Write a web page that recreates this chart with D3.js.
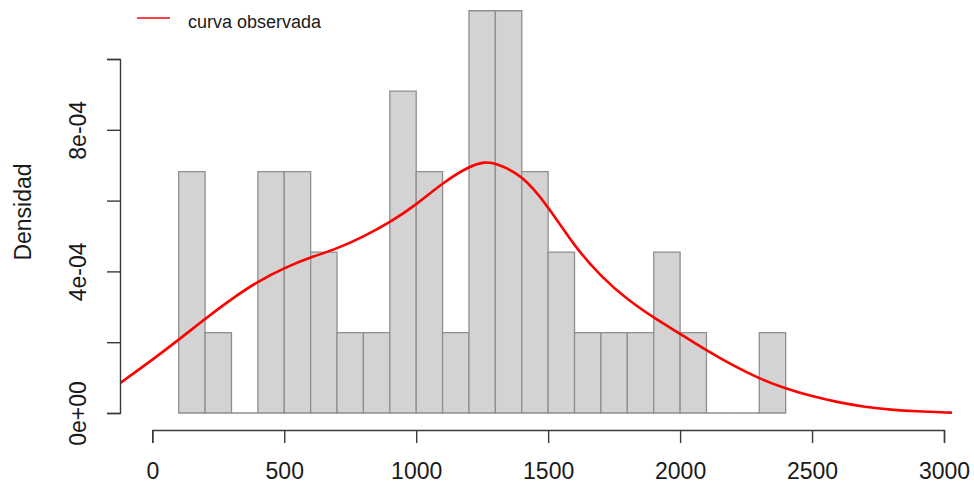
<!DOCTYPE html>
<html>
<head>
<meta charset="utf-8">
<script src="https://cdn.jsdelivr.net/npm/d3@7"></script>
<style>
  html, body { margin: 0; padding: 0; background: #fff; }
  svg { display: block; font-family: "Liberation Sans", Arial, sans-serif; }
</style>
</head>
<body>
<svg id="chart" width="974" height="486"></svg>
<script>
// Histogram bins (lower edges, width 100) and counts
const binStarts = [100, 200, 300, 400, 500, 600, 700, 800, 900, 1000, 1100, 1200,
                   1300, 1400, 1500, 1600, 1700, 1800, 1900, 2000, 2100, 2200, 2300];
const binCounts = [3, 1, 0, 3, 3, 2, 1, 1, 4, 3, 1, 5, 5, 3, 2, 1, 1, 1, 2, 1, 0, 0, 1];
const binWidth = 100;

// Kernel density estimate (x, density)
const densX = [-121, 0, 100, 200, 300, 400, 500, 600, 700, 800, 900, 1000, 1100, 1200,
               1260, 1300, 1400, 1500, 1600, 1700, 1800, 1900, 2000, 2100, 2200, 2300,
               2400, 2500, 2600, 2700, 2800, 2900, 3000, 3030];
const densY = [0.85e-4, 1.5e-4, 2.07e-4, 2.66e-4, 3.22e-4, 3.72e-4, 4.1e-4, 4.4e-4,
               4.64e-4, 4.98e-4, 5.38e-4, 5.88e-4, 6.5e-4, 6.97e-4, 7.1e-4, 7.06e-4,
               6.74e-4, 5.84e-4, 4.7e-4, 3.86e-4, 3.2e-4, 2.69e-4, 2.24e-4, 1.77e-4,
               1.34e-4, 0.97e-4, 0.69e-4, 0.47e-4, 0.3e-4, 0.17e-4, 0.09e-4, 0.045e-4,
               0.015e-4, 0.01e-4];

const xTicks = [0, 500, 1000, 1500, 2000, 2500, 3000];
const yTicks = [0, 2e-4, 4e-4, 6e-4, 8e-4, 1e-3];
const yTickLabels = ["0e+00", "", "4e-04", "", "8e-04", ""];

const legendLabel = "curva observada";
const yTitle = "Densidad";

const nTotal = d3.sum(binCounts);
const bins = binStarts.map((s, i) => ({ x0: s, x1: s + binWidth, d: binCounts[i] / (nTotal * binWidth) }));
const dens = densX.map((x, i) => ({ x, y: densY[i] }));

const svg = d3.select("#chart");
const x = d3.scaleLinear().domain([0, 3000]).range([152.3, 944]);
const y = d3.scaleLinear().domain([0, 1e-3]).range([413, 59]);

const textColor = "#1a1a1a";
const axisColor = "#3a3a3a";

// Bars as closed paths, so empty bins still leave their outline on the baseline
svg.append("g").selectAll("path").data(bins).join("path")
  .attr("d", d => {
    const p = d3.path();
    p.moveTo(x(d.x0), y(0));
    p.lineTo(x(d.x1), y(0));
    p.lineTo(x(d.x1), y(d.d));
    p.lineTo(x(d.x0), y(d.d));
    p.closePath();
    return p.toString();
  })
  .attr("fill", "#d3d3d3")
  .attr("stroke", "#8f8f8f")
  .attr("stroke-width", 1.3);

// Density curve
const line = d3.line().x(d => x(d.x)).y(d => y(d.y)).curve(d3.curveBasis);
svg.append("path").datum(dens)
  .attr("d", line)
  .attr("fill", "none")
  .attr("stroke", "#ff0000")
  .attr("stroke-width", 2.6);

// X axis
const xAxis = svg.append("g").attr("transform", "translate(0,430)")
  .call(d3.axisBottom(x).tickValues(xTicks).tickSize(13).tickPadding(0).tickFormat(d3.format("d")));
xAxis.select(".domain").attr("stroke", axisColor).attr("stroke-width", 1.4);
xAxis.selectAll(".tick line").attr("stroke", axisColor).attr("stroke-width", 1.4);
xAxis.selectAll(".tick text")
  .attr("y", 41).attr("dy", null)
  .attr("dominant-baseline", "central")
  .attr("fill", textColor)
  .style("font-size", "23px");
xAxis.attr("font-family", null);

// Y axis
const yAxis = svg.append("g").attr("transform", "translate(120,0)")
  .call(d3.axisLeft(y).tickValues(yTicks).tickSize(13).tickFormat((d, i) => yTickLabels[i]));
yAxis.select(".domain").attr("stroke", axisColor).attr("stroke-width", 1.4);
yAxis.selectAll(".tick line").attr("stroke", axisColor).attr("stroke-width", 1.4);
yAxis.selectAll(".tick text")
  .attr("x", null).attr("dy", null)
  .attr("transform", "translate(-42,0) rotate(-90)")
  .attr("text-anchor", "middle")
  .attr("dominant-baseline", "central")
  .attr("fill", textColor)
  .style("font-size", "23px");
yAxis.attr("font-family", null);

// Y title
svg.append("text")
  .attr("transform", "translate(23,212) rotate(-90)")
  .attr("text-anchor", "middle")
  .attr("dominant-baseline", "central")
  .attr("fill", textColor)
  .style("font-size", "23px")
  .text(yTitle);

// Legend
svg.append("line")
  .attr("x1", 137).attr("x2", 170).attr("y1", 18).attr("y2", 18)
  .attr("stroke", "#ff0000").attr("stroke-width", 1.5);
svg.append("text")
  .attr("x", 188).attr("y", 22)
  .attr("dominant-baseline", "central")
  .attr("fill", textColor)
  .style("font-size", "18px")
  .text(legendLabel);
</script>
</body>
</html>
